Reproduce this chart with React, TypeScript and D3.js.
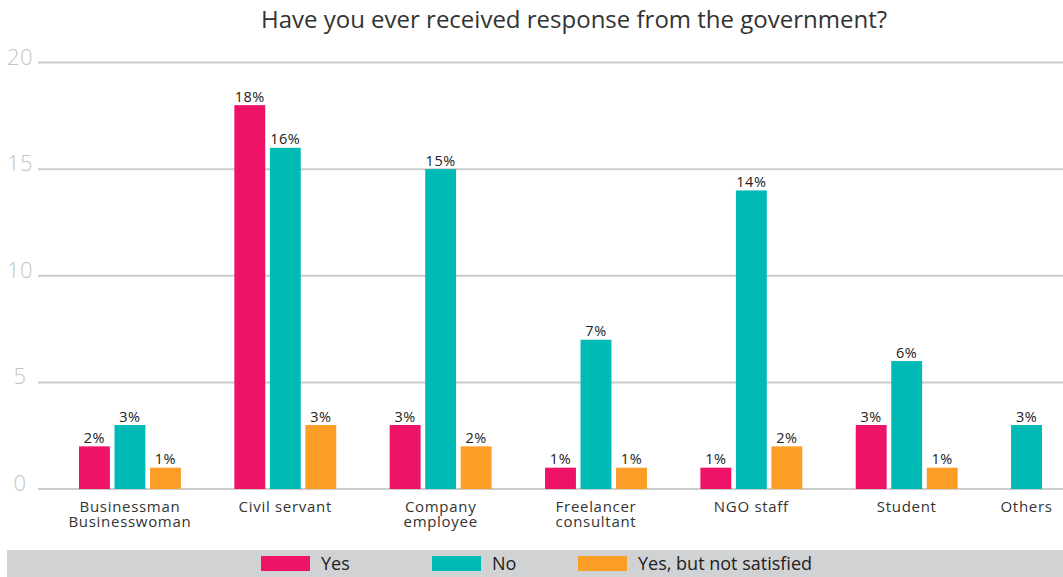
import React from "react";
import * as d3 from "d3";

const title = "Have you ever received response from the government?";
const categories = [
  "Businessman\nBusinesswoman",
  "Civil servant",
  "Company\nemployee",
  "Freelancer\nconsultant",
  "NGO staff",
  "Student",
  "Others",
];
const seriesNames = ["Yes", "No", "Yes, but not satisfied"];
const yesValues = [2, 18, 3, 1, 1, 3, 0];
const noValues = [3, 16, 15, 7, 14, 6, 3];
const notSatisfiedValues = [1, 3, 2, 1, 2, 1, 0];
const yTicks = [0, 5, 10, 15, 20];

const colors = ["#EF1368", "#00BAB5", "#FA9E28"];
const W = 1063;
const H = 577;
const FONT = "'Open Sans', 'Noto Sans', sans-serif";

export default function App() {
  const seriesValues = [yesValues, noValues, notSatisfiedValues];
  const y = d3.scaleLinear().domain([0, 20]).range([489, 62.5]);
  const x0 = d3
    .scaleBand<string>()
    .domain(categories)
    .range([79, 1113])
    .paddingInner(0.344)
    .paddingOuter(0);
  const x1 = d3
    .scaleBand<number>()
    .domain([0, 1, 2])
    .range([0, x0.bandwidth()])
    .paddingInner(0.13);

  const groups = categories.map((cat, ci) => {
    const bars = seriesValues
      .map((vals, si) => ({ si, v: vals[ci] }))
      .filter((b) => b.v > 0)
      .map((b, k) => ({ ...b, x: (x0(cat) as number) + (x1(k) as number) }));
    const left = bars[0].x;
    const right = bars[bars.length - 1].x + x1.bandwidth();
    return { cat, bars, center: (left + right) / 2 };
  });

  const legendX = [261, 432, 578];

  return (
    <svg
      width={W}
      height={H}
      style={{ position: "absolute", left: 0, top: 0, background: "#fff" }}
      fontFamily={FONT}
    >
      <text x={574} y={28} textAnchor="middle" fontSize={24} fill="#333">
        {title}
      </text>
      {yTicks.map((t) => (
        <g key={t}>
          <line x1={38} x2={W} y1={y(t)} y2={y(t)} stroke="#cccccc" strokeWidth={2} />
          <text
            x={20}
            y={y(t) + 2}
            textAnchor="middle"
            fontSize={22}
            fontWeight={300}
            letterSpacing={0.5}
            fill="#c4c4c4"
          >
            {t}
          </text>
        </g>
      ))}
      {groups.map((g) => (
        <g key={g.cat}>
          {g.bars.map((b) => (
            <g key={b.si}>
              <rect
                x={b.x}
                y={y(b.v)}
                width={x1.bandwidth()}
                height={y(0) - y(b.v)}
                fill={colors[b.si]}
              />
              <text
                x={b.x + x1.bandwidth() / 2}
                y={y(b.v) - 3.5}
                textAnchor="middle"
                fontSize={14.5}
                letterSpacing={0.5}
                fill="#222"
              >
                {b.v}%
              </text>
            </g>
          ))}
          <text
            x={g.center}
            y={511.5}
            textAnchor="middle"
            fontSize={15}
            letterSpacing={0.7}
            fill="#333"
          >
            {g.cat.split("\n").map((line, li) => (
              <tspan key={li} x={g.center} dy={li === 0 ? 0 : 15.5}>
                {line}
              </tspan>
            ))}
          </text>
        </g>
      ))}
      <rect x={7} y={550} width={W - 7} height={27} fill="#d1d2d4" />
      {seriesNames.map((s, i) => (
        <g key={s}>
          <rect x={legendX[i]} y={556} width={49} height={15} fill={colors[i]} />
          <text x={legendX[i] + 60} y={569.5} fontSize={18} fill="#222">
            {s}
          </text>
        </g>
      ))}
    </svg>
  );
}
